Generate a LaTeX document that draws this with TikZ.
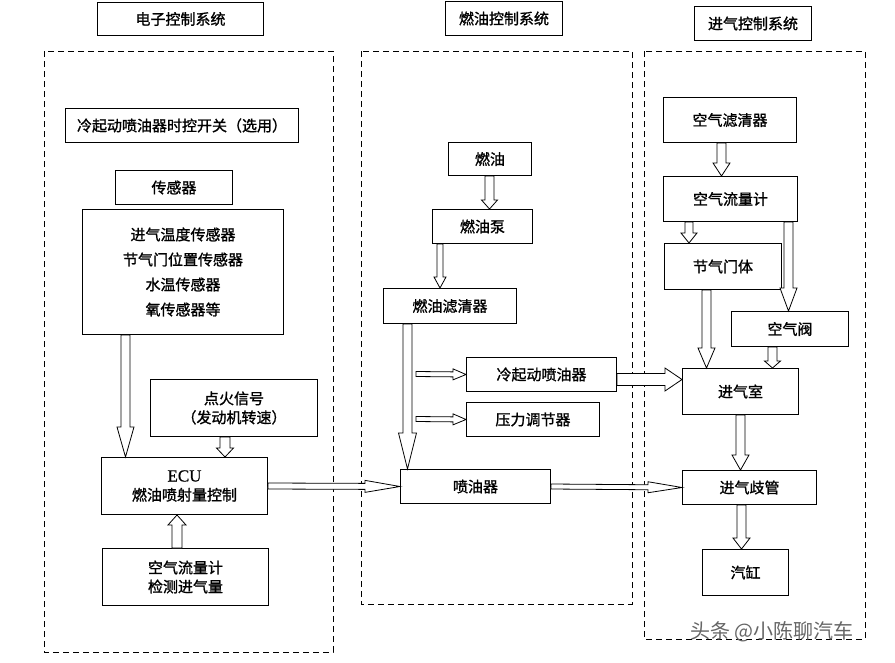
\documentclass[tikz,border=0pt]{standalone}
\usepackage{fontspec}
\newfontfamily\cjk[FakeBold=1.2]{Noto Sans CJK SC}
\newfontfamily\wmfont{Noto Sans CJK SC}
\newfontfamily\latinserif[FakeBold=0.6]{Liberation Serif}
\usetikzlibrary{calc}
\tikzset{
  box/.style={draw, line width=1pt, inner sep=0pt, anchor=north west, align=center,
    font=\cjk\fontsize{15}{19}\selectfont},
  region/.style={draw, line width=0.8pt, dash pattern=on 6pt off 4pt},
  harr/.style={draw, fill=white, line width=0.8pt, line join=miter},
}
% #1 start, #2 end, #3 shaft half width, #4 head half width, #5 head length
\newcommand\hollowarr[5]{%
  \coordinate (ha-s) at (#1);
  \coordinate (ha-e) at (#2);
  \coordinate (ha-b) at ($(ha-e)!#5!(ha-s)$);
  \path[harr] ($(ha-s)!#3!90:(ha-e)$) -- ($(ha-b)!#3!-90:(ha-s)$)
    -- ($(ha-b)!#4!-90:(ha-s)$) -- (ha-e) -- ($(ha-b)!#4!90:(ha-s)$)
    -- ($(ha-b)!#3!90:(ha-s)$) -- ($(ha-s)!#3!-90:(ha-e)$) -- cycle;
}
\begin{document}
\begin{tikzpicture}[x=1pt,y=-1pt]
\useasboundingbox (0,0) rectangle (895,662);
\fill[white] (0,0) rectangle (895,662);

% regions
\draw[region] (44,51) rectangle (333,652);
\draw[region] (361,51) rectangle (632,604);
\draw[region] (644,51) rectangle (865,639);

% titles
\node[box, minimum width=166pt, minimum height=33pt] (t1) at (97,2) {电子控制系统};
\node[box, minimum width=117pt, minimum height=34pt] (t2) at (445,1) {燃油控制系统};
\node[box, minimum width=117pt, minimum height=34pt] (t3) at (694,6) {进气控制系统};

% electronic control
\node[box, minimum width=233pt, minimum height=34pt] (csw) at (65,108) {冷起动喷油器时控开关（选用）};
\node[box, minimum width=117pt, minimum height=34pt] (slab) at (115,170) {传感器};
\node[box, minimum width=201pt, minimum height=125pt,
  font=\cjk\fontsize{15}{25}\selectfont] (sens) at (82,209)
  {进气温度传感器\\节气门位置传感器\\水温传感器\\氧传感器等};
\node[box, minimum width=167pt, minimum height=57pt] (ign) at (150,379) {点火信号\\（发动机转速）};
\node[box, minimum width=166pt, minimum height=57pt] (ecu) at (101,457) {{\latinserif\fontsize{17}{19}\selectfont ECU}\\燃油喷射量控制};
\node[box, minimum width=166pt, minimum height=57pt] (afm1) at (102,548) {空气流量计\\检测进气量};

% fuel control
\node[box, minimum width=83pt, minimum height=33pt] (fuel) at (448,142) {燃油};
\node[box, minimum width=100pt, minimum height=34pt] (pump) at (432,209) {燃油泵};
\node[box, minimum width=133pt, minimum height=35pt] (filter) at (383,288) {燃油滤清器};
\node[box, minimum width=150pt, minimum height=34pt] (coldinj) at (466,357) {冷起动喷油器};
\node[box, minimum width=133pt, minimum height=34pt] (preg) at (466,402) {压力调节器};
\node[box, minimum width=150pt, minimum height=34pt] (inj) at (400,469) {喷油器};

% air intake control
\node[box, minimum width=133pt, minimum height=45pt] (aircl) at (663,97) {空气滤清器};
\node[box, minimum width=134pt, minimum height=45pt] (afm2) at (663,176) {空气流量计};
\node[box, minimum width=117pt, minimum height=46pt] (thr) at (664,243) {节气门体};
\node[box, minimum width=117pt, minimum height=35pt] (av) at (731,311) {空气阀};
\node[box, minimum width=116pt, minimum height=46pt] (plen) at (682,368) {进气室};
\node[box, minimum width=134pt, minimum height=34pt] (mani) at (682,470) {进气歧管};
\node[box, minimum width=86pt, minimum height=46pt] (cyl) at (702,549) {汽缸};

% free ends
\coordinate (c1) at (416,374);
\coordinate (c2) at (416,419);

% arrows
\hollowarr{[xshift=43.5pt]sens.south west}{[xshift=24.5pt]ecu.north west}{4.5pt}{8.5pt}{30pt}
\hollowarr{[xshift=75pt]ign.south west}{[xshift=124pt]ecu.north west}{5pt}{8.5pt}{9pt}
\hollowarr{[xshift=75pt]afm1.north west}{[xshift=76pt]ecu.south west}{5pt}{9pt}{10pt}
\hollowarr{ecu.east}{inj.west}{3pt}{6pt}{35pt}

\hollowarr{[xshift=41.5pt]fuel.south west}{[xshift=57.5pt]pump.north west}{4.5pt}{8pt}{9pt}
\hollowarr{[xshift=8pt]pump.south west}{[xshift=57pt]filter.north west}{3pt}{6pt}{11pt}
\hollowarr{[xshift=24.5pt]filter.south west}{[xshift=7.5pt]inj.north west}{4.5pt}{9pt}{36pt}
\hollowarr{c1}{coldinj.west}{2.5pt}{5.5pt}{13pt}
\hollowarr{c2}{preg.west}{2.5pt}{5.5pt}{13pt}
\hollowarr{[yshift=-5pt]coldinj.east}{[yshift=12pt]plen.west}{6pt}{11.5pt}{17pt}
\hollowarr{inj.east}{mani.west}{2.5pt}{5.5pt}{34pt}

\hollowarr{[xshift=58.5pt]aircl.south west}{[xshift=58.5pt]afm2.north west}{4.5pt}{8.5pt}{13pt}
\hollowarr{[xshift=26pt]afm2.south west}{[xshift=25pt]thr.north west}{4pt}{8pt}{10pt}
\hollowarr{[xshift=125.5pt]afm2.south west}{[xshift=57.5pt]av.north west}{4.5pt}{8.5pt}{23pt}
\hollowarr{[xshift=42.5pt]thr.south west}{[xshift=24.5pt]plen.north west}{4.5pt}{8.5pt}{20pt}
\hollowarr{[xshift=41.5pt]av.south west}{[xshift=90.5pt]plen.north west}{4.5pt}{8pt}{7pt}
\hollowarr{[xshift=58.5pt]plen.south west}{[xshift=58.5pt]mani.north west}{4.5pt}{8.5pt}{15pt}
\hollowarr{[xshift=59.5pt]mani.south west}{[xshift=39.5pt]cyl.north west}{4.5pt}{8.5pt}{11pt}

% watermark
\node[anchor=west, inner sep=0pt, text=black!60, font=\wmfont\fontsize{20}{22}\selectfont] (wm) at (690,632) {头条 @小陈聊汽车};
\end{tikzpicture}
\end{document}
